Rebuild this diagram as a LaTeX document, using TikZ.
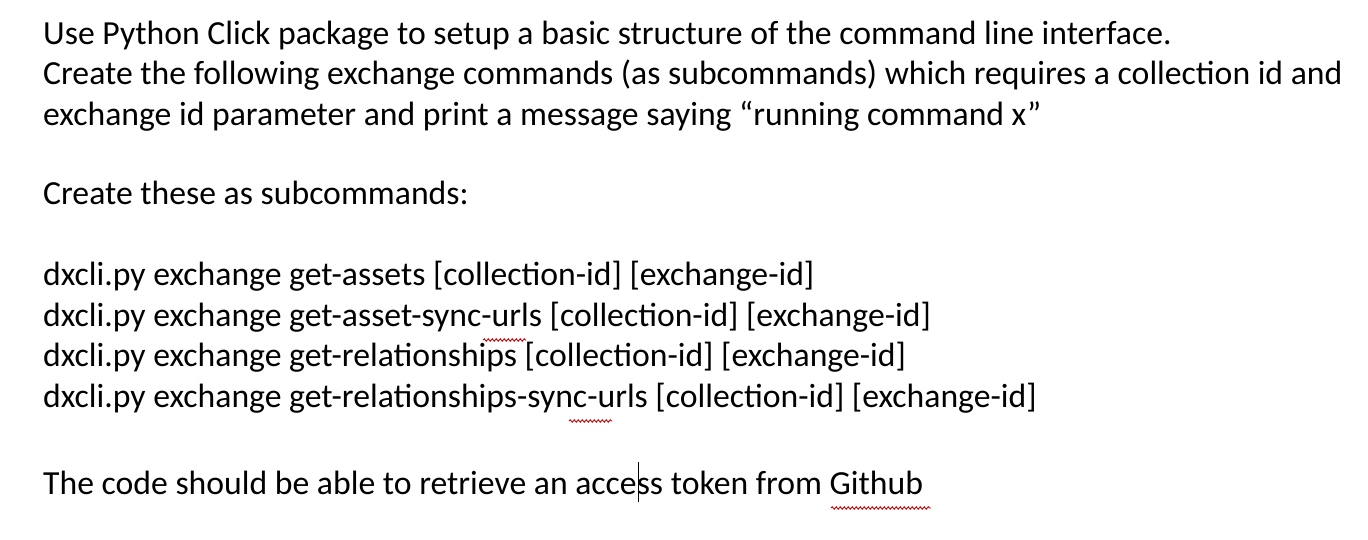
\documentclass[tikz,border=0pt]{standalone}
\usepackage{fontspec}
\setmainfont{Carlito}
\usetikzlibrary{decorations.pathmorphing}
\begin{document}
\begin{tikzpicture}[x=1pt,y=1pt,
  txt/.style={anchor=base west,inner sep=0pt,font=\fontsize{33.7}{40}\selectfont},
  squig/.style={red!80!black,line width=0.9pt,decorate,decoration={snake,amplitude=1.2pt,segment length=4pt}}]
\useasboundingbox[fill=white] (0,0) rectangle (1368,539);
\node[txt] (l1) at (43,494) {Use Python Click package to setup a basic structure of the command line interface.};
\node[txt] (l2) at (43,454) {Create the following exchange commands (as subcommands) which requires a collection id and};
\node[txt] (l3) at (43,413) {exchange id parameter and print a message saying “running command x”};
\node[txt] (l4) at (43,334) {Create these as subcommands:};
\node[txt] (l5) at (43,254) {dxcli.py exchange get-assets [collection-id] [exchange-id]};
\node[txt] (l6) at (43,213) {dxcli.py exchange get-asset-sync-urls [collection-id] [exchange-id]};
\node[txt] (l7) at (43,173) {dxcli.py exchange get-relationships [collection-id] [exchange-id]};
\node[txt] (l8) at (43,132) {dxcli.py exchange get-relationships-sync-urls [collection-id] [exchange-id]};
\node[txt] (l9) at (43,45) {The code should be able to retrieve an acce\rlap{\hspace{1pt}\rule[-8pt]{1.2pt}{40pt}}ss token from Github};
\draw[squig] (483,199) -- (526,199);
\draw[squig] (569,118) -- (612,118);
\draw[squig] (831,31) -- (931,31);
\end{tikzpicture}
\end{document}
